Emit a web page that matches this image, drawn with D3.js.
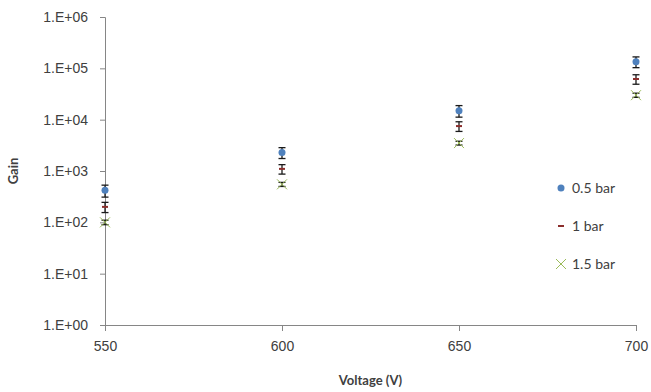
<!DOCTYPE html>
<html>
<head>
<meta charset="utf-8">
<script src="https://cdn.jsdelivr.net/npm/d3@7"></script>
<style>
  body { margin: 0; background: #fff; }
  svg { display: block; font-family: Lato, "Open Sans", sans-serif; }
</style>
</head>
<body>
<div id="chart"></div>
<script>
// voltages on the x axis
const voltages = [550, 600, 650, 700];
const xTicks = [550, 600, 650, 700];
const yTicks = [1, 10, 100, 1000, 10000, 100000, 1000000];

// gain per pressure, with symmetric error
const gain05 = [420, 2300, 15000, 135000];
const err05 = [110, 550, 3800, 32000];
const gain10 = [200, 1100, 7500, 62000];
const err10 = [45, 230, 1600, 13000];
const gain15 = [100, 550, 3500, 30000];
const err15 = [10, 50, 300, 2800];

const seriesNames = ['0.5 bar', '1 bar', '1.5 bar'];

const W = 651, H = 392;
const margin = { top: 17, right: 15, bottom: 67, left: 105 };

const svg = d3.select('#chart').append('svg')
  .attr('width', W).attr('height', H);

const x = d3.scaleLinear()
  .domain([550, 700])
  .range([margin.left, W - margin.right]);

const y = d3.scaleLog()
  .domain([1, 1000000])
  .range([H - margin.bottom, margin.top]);

const axisColor = '#868686';
const textColor = '#404040';

const fmtExp = d => '1.E+' + String(Math.round(Math.log10(d))).padStart(2, '0');

// y axis
const yAxis = svg.append('g')
  .attr('transform', `translate(${margin.left},0)`)
  .call(d3.axisLeft(y).tickValues(yTicks).tickFormat(fmtExp).tickSize(5).tickPadding(12));
// x axis
const xAxis = svg.append('g')
  .attr('transform', `translate(0,${H - margin.bottom})`)
  .call(d3.axisBottom(x).tickValues(xTicks).tickFormat(d3.format('d')).tickSize(6).tickPadding(10));

[yAxis, xAxis].forEach(g => {
  g.selectAll('path, line').attr('stroke', axisColor);
  g.selectAll('text').attr('fill', textColor).style('font-size', '14px');
});

// axis titles
svg.append('text')
  .attr('transform', `translate(18,${(margin.top + H - margin.bottom) / 2}) rotate(-90)`)
  .attr('text-anchor', 'middle')
  .attr('fill', textColor)
  .style('font-size', '13px').style('font-weight', 'bold')
  .text('Gain');

svg.append('text')
  .attr('x', (margin.left + W - margin.right) / 2)
  .attr('y', 385)
  .attr('text-anchor', 'middle')
  .attr('fill', textColor)
  .style('font-size', '13px').style('font-weight', 'bold')
  .text('Voltage (V)');

const series = [
  { name: seriesNames[0], vals: gain05, err: err05, color: '#4F81BD', marker: 'dot' },
  { name: seriesNames[1], vals: gain10, err: err10, color: '#8B2E2C', marker: 'dash' },
  { name: seriesNames[2], vals: gain15, err: err15, color: '#9BBB59', marker: 'cross' }
];

function drawMarker(g, type, color) {
  if (type === 'dot') {
    g.append('circle').attr('r', 3.5).attr('fill', color);
  } else if (type === 'dash') {
    g.append('line').attr('x1', -3).attr('x2', 3).attr('y1', 0).attr('y2', 0)
      .attr('stroke', color).attr('stroke-width', 2);
  } else {
    g.append('path').attr('d', 'M-5,-5L5,5M-5,5L5,-5')
      .attr('stroke', color).attr('stroke-width', 1).attr('fill', 'none');
  }
}

const plot = svg.append('g');

// error bars
series.forEach(s => {
  const eb = plot.append('g').attr('stroke', '#1a1a1a').attr('stroke-width', 1.3);
  voltages.forEach((v, i) => {
    const cx = x(v);
    const yl = y(s.vals[i] - s.err[i]);
    const yh = y(s.vals[i] + s.err[i]);
    eb.append('line').attr('x1', cx).attr('x2', cx).attr('y1', yl).attr('y2', yh);
    eb.append('line').attr('x1', cx - 3.5).attr('x2', cx + 3.5).attr('y1', yl).attr('y2', yl);
    eb.append('line').attr('x1', cx - 3.5).attr('x2', cx + 3.5).attr('y1', yh).attr('y2', yh);
  });
});

// markers
series.forEach(s => {
  voltages.forEach((v, i) => {
    const g = plot.append('g').attr('transform', `translate(${x(v)},${y(s.vals[i])})`);
    drawMarker(g, s.marker, s.color);
  });
});

// legend
const legend = svg.append('g').attr('transform', 'translate(561,188)');
series.forEach((s, i) => {
  const row = legend.append('g').attr('transform', `translate(0,${i * 38})`);
  drawMarker(row, s.marker, s.color);
  row.append('text')
    .attr('x', 11).attr('y', 0).attr('dy', '0.35em')
    .attr('fill', textColor)
    .style('font-size', '14px')
    .text(s.name);
});
</script>
</body>
</html>
